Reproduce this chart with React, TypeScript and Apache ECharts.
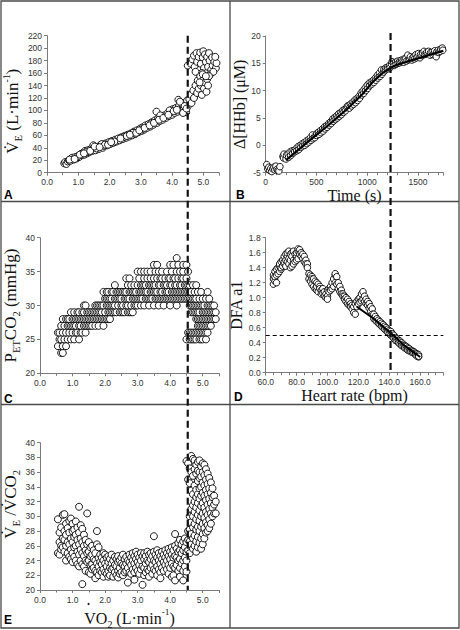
import React, { useEffect, useRef } from "react";
import * as echarts from "echarts";

// ---------- Data ----------
// Panel A: VO2 (L/min) vs VE (L/min)
const veData: number[][] = [
  [0.55, 15], [0.58, 17], [0.62, 14], [0.66, 18], [0.7, 20], [0.74, 19], [0.78, 22], [0.8, 24], [0.85, 21],
  [0.9, 25], [0.95, 23], [1.0, 27], [1.02, 25], [1.08, 30], [1.12, 28], [1.15, 32], [1.2, 29], [1.22, 35],
  [1.28, 31], [1.3, 36], [1.35, 33], [1.4, 38], [1.45, 35], [1.48, 44], [1.5, 39], [1.55, 36], [1.6, 41],
  [1.65, 38], [1.7, 44], [1.75, 46], [1.78, 40], [1.82, 43], [1.88, 47], [1.92, 44], [1.98, 49], [2.02, 46],
  [2.08, 51], [2.12, 48], [2.18, 53], [2.22, 50], [2.28, 55], [2.32, 52], [2.38, 57], [2.42, 54], [2.48, 59],
  [2.52, 56], [2.58, 61], [2.62, 58], [2.68, 63], [2.72, 60], [2.78, 66], [2.82, 62], [2.88, 68], [2.92, 65],
  [2.98, 71], [3.02, 67], [3.06, 73], [3.1, 69], [3.15, 76], [3.2, 72], [3.25, 78], [3.3, 74], [3.35, 81],
  [3.4, 77], [3.45, 84], [3.5, 98], [3.52, 80], [3.55, 87], [3.6, 83], [3.65, 89], [3.7, 85], [3.75, 92],
  [3.8, 88], [3.85, 95], [3.9, 91], [3.95, 97], [4.0, 93], [4.02, 102], [4.08, 96], [4.12, 104], [4.18, 98],
  [4.2, 117], [4.22, 107], [4.28, 100], [4.32, 110], [4.38, 104], [4.42, 112], [4.45, 97], [4.48, 116],
  [4.5, 172], [4.52, 108], [4.35, 96], [4.25, 114], [3.92, 100], [3.62, 92], [3.32, 79], [3.05, 70],
  [2.75, 64], [2.45, 57], [2.15, 50], [1.85, 45], [1.58, 39], [1.25, 33], [0.98, 26], [0.72, 21],
  [0.88, 22], [1.05, 29], [1.18, 31], [1.38, 35], [1.52, 42], [1.68, 41], [1.95, 45], [2.05, 49],
  [2.35, 55], [2.55, 59], [2.65, 61], [2.85, 64], [2.95, 68], [3.12, 72], [3.28, 76], [3.42, 80],
  [3.58, 85], [3.72, 88], [3.88, 93], [4.05, 99], [4.15, 101], [4.4, 107], [4.46, 103],
  // upper blob
  [4.6, 175], [4.65, 182], [4.7, 188], [4.72, 170], [4.78, 192], [4.8, 178], [4.85, 186], [4.88, 165],
  [4.9, 193], [4.92, 175], [4.98, 185], [5.0, 195], [5.02, 168], [5.05, 190], [5.08, 178], [5.1, 160],
  [5.12, 186], [5.15, 170], [5.18, 192], [5.2, 180], [5.25, 165], [5.28, 185], [5.3, 172], [5.35, 178],
  [5.4, 168], [5.42, 176], [5.38, 186], [5.22, 158], [4.95, 160], [4.75, 162], [5.32, 162],
  // lower column
  [4.55, 118], [4.6, 125], [4.62, 112], [4.68, 132], [4.7, 120], [4.75, 140], [4.8, 128], [4.82, 148],
  [4.85, 135], [4.9, 155], [4.92, 140], [4.95, 125], [5.0, 150], [5.02, 135], [5.05, 145], [5.1, 130],
  [5.12, 150], [5.15, 140], [5.18, 155], [4.98, 158], [4.88, 145], [5.08, 155],
];

// Panel B: time (s) vs Δ[HHb] (µM)
const hhbData: number[][] = [
  [10, -3.5], [20, -4.3], [30, -4.0], [40, -4.6], [50, -4.2], [60, -4.8], [70, -4.3], [80, -4.0], [90, -4.5],
  [100, -3.8], [110, -4.4], [120, -4.6], [130, -4.7], [140, -3.9],
  [170, -2.0], [175, -2.3], [180, -1.6], [200, -2.5], [205, -1.8], [220, -1.6], [225, -2.2], [240, -1.2],
  [245, -1.9], [260, -1.0], [265, -1.5], [280, -0.9], [285, -1.2], [300, -0.6], [305, -1.0], [320, -0.2],
  [325, -0.8], [340, 0.0], [345, -0.4], [360, 0.3], [365, -0.1], [380, 0.5], [385, 0.0], [400, 0.8],
  [405, 0.3], [420, 1.0], [425, 0.6], [440, 1.4], [445, 0.9], [460, 1.9], [465, 1.2], [480, 1.6], [485, 1.4],
  [500, 1.8], [505, 2.2], [520, 2.4], [525, 2.0], [540, 2.7], [545, 2.3], [560, 3.0], [565, 2.6], [580, 3.4],
  [585, 3.0], [600, 3.6], [605, 3.3], [620, 4.0], [625, 3.7], [640, 4.3], [645, 4.0], [660, 4.8], [665, 4.4],
  [680, 5.1], [685, 4.7], [700, 5.4], [705, 5.0], [720, 5.8], [725, 5.3], [740, 6.0], [745, 5.6], [760, 6.4],
  [765, 6.0], [780, 6.6], [785, 6.3], [800, 6.9], [805, 7.2], [820, 7.3], [825, 6.8], [840, 7.6], [845, 7.2],
  [860, 7.9], [865, 7.5], [880, 8.3], [885, 7.8], [900, 8.6], [905, 8.2], [920, 9.0], [925, 8.6], [940, 9.6],
  [945, 9.2], [960, 10.0], [965, 9.5], [980, 10.5], [985, 10.0], [1000, 11.0], [1005, 10.4], [1020, 11.4],
  [1025, 10.9], [1040, 11.6], [1045, 11.2], [1060, 11.9], [1065, 11.5], [1080, 12.3], [1085, 11.9],
  [1100, 12.8], [1105, 12.3], [1120, 13.2], [1125, 12.6], [1140, 13.8], [1145, 13.0], [1160, 13.4],
  [1165, 13.9], [1180, 13.8], [1185, 14.2], [1200, 14.3], [1205, 14.0], [1220, 14.6], [1225, 14.2],
  [1240, 14.8], [1245, 15.3], [1260, 15.0], [1265, 14.6], [1280, 15.2], [1285, 14.8], [1300, 15.4],
  [1305, 15.0], [1320, 15.1], [1325, 15.5], [1340, 15.6], [1345, 15.3], [1360, 15.2], [1365, 15.8],
  [1380, 15.9], [1385, 15.4], [1400, 16.5], [1405, 15.6], [1420, 15.8], [1425, 16.2], [1440, 15.6],
  [1445, 16.0], [1460, 16.2], [1465, 15.8], [1480, 16.6], [1485, 16.0], [1500, 16.3], [1505, 16.8],
  [1520, 16.0], [1525, 16.6], [1540, 16.4], [1545, 16.9], [1560, 17.2], [1565, 16.6], [1580, 16.7],
  [1585, 17.0], [1600, 16.8], [1605, 17.2], [1620, 16.5], [1625, 17.0], [1640, 17.0], [1645, 16.6],
  [1660, 16.8], [1665, 17.3], [1680, 16.2], [1685, 17.1], [1700, 17.4], [1705, 17.0], [1720, 17.2],
  [1725, 17.6], [1740, 17.8], [1745, 17.4],
];
const hhbFit: number[][] = [
  [200, -2.7], [400, 0.4], [600, 3.4], [800, 6.6], [950, 9.3], [1050, 11.5], [1150, 13.2], [1230, 14.2],
  [1300, 14.8], [1500, 15.9], [1750, 17.3],
];

// Panel C: VO2 vs PETCO2 (columns of integer readings)
const petco2Columns: [number, number[]][] = [
  [0.55, [24, 26]], [0.6, [25, 26]], [0.65, [23, 25, 27]], [0.7, [23, 24, 26, 28]], [0.75, [25, 27]],
  [0.8, [24, 26, 28]], [0.85, [25, 27, 28]], [0.9, [26, 27, 28]], [0.95, [25, 27, 29]], [1.0, [26, 27, 28]],
  [1.05, [25, 27, 28, 29]], [1.1, [26, 27, 28]], [1.15, [26, 28, 29]], [1.2, [25, 27, 28, 29]],
  [1.25, [26, 27, 28]], [1.3, [26, 28, 29]], [1.35, [27, 28, 29, 30]], [1.4, [26, 27, 28, 30]],
  [1.45, [27, 28, 29]], [1.5, [27, 28, 29]], [1.55, [27, 28, 29]], [1.6, [27, 28, 29]], [1.65, [28, 29]],
  [1.7, [27, 28, 29, 30]], [1.75, [28, 29, 30]], [1.8, [27, 28, 29, 30]], [1.85, [28, 29, 30]],
  [1.9, [28, 29, 30]], [1.95, [27, 28, 30, 32]], [2.0, [28, 29, 31]], [2.05, [28, 30, 31, 32]],
  [2.1, [28, 29, 30, 31, 32]], [2.15, [28, 29, 30, 31]], [2.2, [29, 30, 31, 32]], [2.25, [29, 30, 32]],
  [2.3, [29, 30, 31, 33]], [2.35, [29, 31, 32]], [2.4, [30, 31, 32]], [2.45, [29, 31, 32]],
  [2.5, [29, 30, 31, 32]], [2.55, [29, 30, 32]], [2.6, [29, 31, 32]], [2.65, [30, 31, 32, 34]],
  [2.7, [29, 30, 31, 33]], [2.75, [29, 31, 32, 34]], [2.8, [29, 30, 32, 33]], [2.85, [29, 31, 32]],
  [2.9, [30, 31, 32, 33]], [2.95, [30, 31, 32]], [3.0, [30, 31, 33, 35]], [3.05, [31, 32, 34]],
  [3.1, [30, 31, 32, 33, 35]], [3.15, [31, 32, 33]], [3.2, [30, 32, 33, 34, 35]], [3.25, [31, 32, 33]],
  [3.3, [31, 32, 34, 35]], [3.35, [30, 31, 33]], [3.4, [31, 32, 33, 34, 35]], [3.45, [31, 32, 33]],
  [3.5, [30, 32, 33, 34, 36]], [3.55, [31, 32, 33, 35]], [3.6, [31, 32, 34, 36]], [3.65, [30, 31, 33, 35]],
  [3.7, [31, 32, 33, 34]], [3.75, [31, 32, 34, 35]], [3.8, [30, 31, 33]], [3.85, [31, 32, 33, 34]],
  [3.9, [31, 32, 33, 35]], [3.95, [31, 32, 34]], [4.0, [30, 31, 33, 34, 36]], [4.05, [31, 32, 33, 35]],
  [4.1, [31, 32, 34, 36]], [4.15, [31, 32, 33, 34]], [4.2, [30, 31, 32, 33, 35, 37]], [4.25, [31, 32, 34, 36]],
  [4.3, [31, 32, 33, 35]], [4.35, [31, 32, 33, 34]], [4.4, [31, 32, 34, 35, 36]], [4.45, [31, 32, 33]],
  [4.5, [25, 31, 32, 33, 34, 36]], [4.55, [26, 31, 32, 33, 35]], [4.6, [25, 26, 30, 31, 32, 33]],
  [4.65, [25, 26, 29, 30, 31, 32]], [4.7, [25, 26, 29, 30, 31, 33]], [4.75, [25, 26, 29, 30, 31, 32]],
  [4.8, [25, 26, 28, 29, 30, 31, 33]], [4.85, [26, 27, 28, 29, 30, 32]], [4.9, [25, 26, 27, 28, 29, 30, 31]],
  [4.95, [25, 26, 27, 28, 30, 32]], [5.0, [25, 26, 27, 28, 29, 30, 31]], [5.05, [26, 27, 28, 29, 30]],
  [5.1, [25, 26, 27, 28, 29, 31]], [5.15, [26, 27, 28, 29, 30, 32]], [5.2, [27, 28, 29, 30, 31]],
  [5.25, [27, 28, 29, 30]], [5.3, [28, 29, 30]], [5.35, [28, 29, 30]], [5.4, [28, 29]],
];

// Panel D: heart rate (bpm) vs DFA a1
const dfaColumns: [number, number[]][] = [
  [65, [1.18, 1.25, 1.3]], [66, [1.22, 1.35, 1.28]], [67, [1.3, 1.38, 1.2]], [68, [1.32, 1.4]],
  [69, [1.35, 1.42, 1.45]], [70, [1.38, 1.48, 1.4]], [71, [1.42, 1.5]], [72, [1.45, 1.55, 1.48]],
  [73, [1.5, 1.58, 1.42]], [74, [1.55, 1.6, 1.48]], [75, [1.52, 1.62, 1.45]], [76, [1.58, 1.5, 1.4]],
  [77, [1.6, 1.55, 1.42]], [78, [1.62, 1.5, 1.45]], [79, [1.58, 1.48]], [80, [1.55, 1.6, 1.5]],
  [81, [1.62, 1.65, 1.52]], [82, [1.64, 1.58]], [83, [1.6, 1.55]], [84, [1.58, 1.52]], [85, [1.55, 1.48]],
  [86, [1.5, 1.45]], [87, [1.45, 1.4]], [88, [1.32, 1.25]], [89, [1.3, 1.22]], [90, [1.28, 1.18, 1.25]],
  [91, [1.25, 1.15]], [92, [1.22, 1.12]], [93, [1.2, 1.1, 1.15]], [94, [1.18, 1.08]], [95, [1.15, 1.12]],
  [96, [1.1, 1.05]], [97, [1.12, 1.06]], [98, [1.08, 1.02]], [99, [1.05, 1.0]], [100, [1.1, 1.02, 0.98]],
  [101, [1.12, 1.08]], [102, [1.15, 1.1]], [103, [1.2, 1.12]], [104, [1.25, 1.15]], [105, [1.3, 1.32, 1.2]],
  [106, [1.28, 1.18]], [107, [1.2, 1.12]], [108, [1.15, 1.08]], [109, [1.1, 1.05]], [110, [1.05, 1.02]],
  [111, [1.02, 0.98]], [112, [1.0, 0.95]], [113, [0.98, 0.92]], [114, [0.95, 0.9]], [115, [0.92, 0.88]],
  [116, [0.9, 0.85]], [117, [0.88, 0.8]], [118, [0.92, 0.78]], [119, [0.95, 0.88]], [120, [0.98, 0.92]],
  [121, [1.0, 0.94]], [122, [1.05, 0.96]], [123, [1.08, 0.98]], [124, [1.02, 0.95]], [125, [0.98, 0.92]],
  [126, [0.95, 0.9]], [127, [0.92, 0.86]], [128, [0.88, 0.82]], [129, [0.85, 0.78]], [130, [0.78, 0.72]],
  [131, [0.75, 0.7]], [132, [0.72, 0.68]], [133, [0.7, 0.66]], [134, [0.68, 0.64]], [135, [0.66, 0.62]],
  [136, [0.64, 0.6]], [137, [0.62, 0.58]], [138, [0.6, 0.56]], [139, [0.58, 0.54]], [140, [0.56, 0.52]],
  [141, [0.55, 0.5]], [142, [0.52, 0.48]], [143, [0.5, 0.46]], [144, [0.47, 0.43]], [145, [0.45, 0.42]],
  [146, [0.43, 0.4]], [147, [0.42, 0.38]], [148, [0.4, 0.36]], [149, [0.38, 0.35]], [150, [0.36, 0.33]],
  [151, [0.35, 0.32]], [152, [0.33, 0.3]], [153, [0.32, 0.29]], [154, [0.3, 0.28]], [155, [0.29, 0.27]],
  [156, [0.28, 0.26]], [157, [0.26, 0.24]], [158, [0.25, 0.22]], [159, [0.24, 0.21, 0.22]],
];
const dfaFit: number[][] = [[119, 0.88], [130, 0.72], [141, 0.53], [150, 0.36], [160, 0.21]];

// Panel E: VO2 vs VE/VCO2
const veVco2Columns: [number, number[]][] = [
  [0.55, [29.6, 25.0]], [0.6, [27.8, 26.5, 24.8]], [0.65, [26.0, 28.5, 25.5]], [0.7, [30.2, 27.0, 25.8]],
  [0.75, [30.3, 28.0, 26.8, 25.2]], [0.8, [29.0, 27.5, 26.0, 24.0]], [0.85, [28.4, 26.5, 25.0]],
  [0.9, [29.4, 27.8, 26.2, 24.5]], [0.95, [29.7, 27.0, 25.5, 24.2]], [1.0, [29.0, 28.0, 26.5, 25.0, 23.8]],
  [1.05, [28.2, 27.2, 25.8, 24.5]], [1.1, [29.3, 27.5, 26.0, 24.0]], [1.15, [28.5, 26.8, 25.2, 23.5]],
  [1.2, [31.3, 27.8, 26.2, 24.8, 23.2]], [1.25, [28.8, 27.0, 25.5, 24.0]], [1.3, [28.3, 26.5, 25.0, 23.5, 20.8]],
  [1.35, [27.5, 26.0, 24.6, 23.2]], [1.4, [26.8, 25.4, 24.0, 22.6]], [1.45, [30.4, 26.2, 25.0, 23.8]],
  [1.5, [26.5, 25.2, 24.0, 22.4]], [1.55, [25.8, 24.6, 23.4, 22.2]], [1.6, [26.0, 24.8, 23.5, 22.8]],
  [1.65, [25.4, 24.2, 23.0]], [1.7, [25.0, 24.0, 22.6, 21.6]], [1.75, [28.0, 26.2, 23.6, 22.4]],
  [1.8, [25.8, 24.4, 23.2, 22.0]], [1.85, [24.8, 23.8, 22.6]], [1.9, [24.4, 23.5, 22.4]],
  [1.95, [25.0, 24.0, 22.8, 21.8]], [2.0, [24.8, 23.6, 22.4]], [2.05, [24.4, 23.2, 22.2]],
  [2.1, [24.6, 23.8, 22.6, 21.8]], [2.15, [24.2, 23.0, 22.0]], [2.2, [24.8, 23.6, 22.8]],
  [2.25, [24.0, 23.0, 21.8]], [2.3, [24.5, 23.4, 22.4]], [2.35, [24.2, 23.2, 22.0]],
  [2.4, [24.6, 23.8, 22.6, 21.7]], [2.45, [24.0, 23.0, 22.2]], [2.5, [24.4, 23.6, 22.4]],
  [2.55, [24.8, 23.4, 22.0]], [2.6, [24.2, 23.2, 22.4]], [2.65, [24.5, 23.6, 22.6]], [2.7, [24.0, 23.0, 21.0]],
  [2.75, [24.8, 23.8, 22.4]], [2.8, [24.4, 23.4, 22.2]], [2.85, [25.0, 24.0, 22.8]],
  [2.9, [24.6, 23.6, 22.4, 21.4]], [2.95, [25.2, 24.2, 23.0]], [3.0, [24.8, 23.8, 22.6]],
  [3.05, [24.4, 23.4, 22.2]], [3.1, [25.0, 24.0, 22.8]], [3.15, [24.6, 23.2, 20.7]],
  [3.2, [25.0, 24.2, 23.0, 22.0]], [3.25, [24.6, 23.6, 22.4]], [3.3, [25.2, 24.0, 22.8]],
  [3.35, [24.8, 23.8, 22.6, 21.8]], [3.4, [25.0, 24.2, 23.0]], [3.45, [24.6, 23.4, 22.2]],
  [3.5, [27.3, 25.2, 24.0, 22.8]], [3.55, [24.8, 23.8, 22.6]], [3.6, [25.4, 24.4, 23.2, 22.0]],
  [3.65, [25.0, 24.0, 22.8]], [3.7, [24.6, 23.6, 22.4, 21.6]], [3.75, [25.2, 24.2, 23.0]],
  [3.8, [24.8, 23.8, 22.6]], [3.85, [25.4, 24.4, 23.4]], [3.9, [25.0, 24.0, 22.8]],
  [3.95, [25.6, 24.6, 23.4, 22.2]], [4.0, [25.2, 24.2, 23.0]], [4.05, [25.8, 24.8, 23.6, 21.8]],
  [4.1, [25.4, 24.4, 23.2, 22.0]], [4.15, [27.6, 26.0, 24.6, 23.0, 21.3]], [4.2, [25.6, 24.4, 23.4]],
  [4.25, [26.4, 25.2, 24.0, 22.6]], [4.3, [26.8, 25.4, 24.2, 23.0, 21.8]], [4.35, [26.2, 25.0, 23.6]],
  [4.4, [26.6, 25.4, 24.0, 22.6, 21.3]], [4.45, [27.0, 25.8, 24.4, 23.2]], [4.5, [37.5, 26.5, 25.2, 24.0, 22.5]],
  [4.55, [37.2, 35.0, 28.0, 26.8, 25.4]], [4.6, [36.5, 34.5, 30.0, 28.2, 26.6, 25.0]],
  [4.65, [38.2, 36.0, 33.5, 31.0, 29.2, 27.6, 26.2]], [4.7, [37.8, 35.5, 33.0, 31.5, 30.0, 28.5, 27.0, 25.6]],
  [4.75, [37.6, 36.4, 34.2, 32.0, 30.6, 29.0, 27.4, 26.0]],
  [4.8, [37.0, 35.8, 33.6, 32.6, 31.2, 29.6, 28.2, 26.6, 25.2]],
  [4.85, [37.4, 36.2, 34.8, 33.0, 31.8, 30.2, 28.6, 27.2, 25.8]],
  [4.9, [37.6, 36.0, 35.2, 33.8, 32.4, 30.8, 29.4, 28.0, 26.4]],
  [4.95, [36.8, 35.4, 34.0, 32.8, 31.4, 30.0, 28.6, 27.0, 25.6]],
  [5.0, [37.2, 36.0, 34.6, 33.2, 31.8, 30.4, 29.0, 27.6, 26.2]],
  [5.05, [37.0, 35.6, 34.2, 32.8, 31.2, 29.8, 28.4, 27.0]], [5.1, [36.4, 35.0, 33.6, 32.2, 30.6, 29.2, 27.8]],
  [5.15, [35.8, 34.4, 33.0, 31.6, 30.2, 28.8, 28.0]], [5.2, [35.2, 33.8, 32.4, 31.0, 29.6, 28.4]],
  [5.25, [34.6, 33.2, 31.8, 30.4, 29.0]], [5.3, [33.8, 32.6, 31.2, 30.0]], [5.35, [32.8, 31.6, 30.4]],
  [5.4, [32.0, 30.4]],
];

// Thresholds
const VT_VO2 = 4.5;
const HHB_BREAK_TIME = 1228;
const HR_BREAK = 141;
const DFA_THRESHOLD = 0.5;

const flatten = (cols: [number, number[]][]) => cols.flatMap(([x, ys]) => ys.map((y) => [x, y]));

const SANS = "'Liberation Sans', Arial, sans-serif";
const SERIF = "'Liberation Serif', 'Times New Roman', serif";
const AXIS_COLOR = "#7a7a7a";

const richStyles = (size: number) => ({
  m: { fontFamily: SERIF, fontSize: size, lineHeight: size + 6, color: "#111" },
  sb: { fontFamily: SERIF, fontSize: size * 0.62, lineHeight: 9, verticalAlign: "bottom", color: "#111" },
  sp: { fontFamily: SERIF, fontSize: size * 0.58, lineHeight: 9, verticalAlign: "top", color: "#111" },
});

function makeAxis(opts: any) {
  const { min, max, interval, decimals, minorSplit, name, nameGap, nameSize, rotate, hideMax, labelMargin, namePadding } = opts;
  return {
    type: "value",
    min,
    max,
    interval,
    gridIndex: opts.gridIndex,
    name: name || "",
    nameLocation: "middle",
    nameGap: nameGap || 0,
    nameRotate: rotate ? 90 : 0,
    nameTextStyle: {
      fontFamily: SERIF, fontSize: nameSize || 16, color: "#111", rich: richStyles(nameSize || 16),
      padding: namePadding || 0,
    },
    axisLine: { show: true, onZero: false, lineStyle: { color: AXIS_COLOR, width: 1 } },
    axisTick: { show: true, length: 3, lineStyle: { color: AXIS_COLOR, width: 1 } },
    minorTick: minorSplit
      ? { show: true, splitNumber: minorSplit, length: 2.5, lineStyle: { color: AXIS_COLOR, width: 1 } }
      : { show: false },
    splitLine: { show: false },
    axisLabel: {
      fontFamily: SANS,
      fontSize: 8.5,
      color: "#333",
      margin: labelMargin ?? 5,
      showMaxLabel: hideMax ? false : true,
      formatter: (v: number) => v.toFixed(decimals),
    },
  };
}

const scatterStyle = (size: number) => ({
  type: "scatter",
  symbol: "circle",
  symbolSize: size,
  itemStyle: { color: "#fff", borderColor: "#000", borderWidth: 0.9, opacity: 1 },
  emphasis: { disabled: true },
  silent: true,
});

export default function App() {
  const ref = useRef<HTMLDivElement>(null);

  useEffect(() => {
    document.body.style.margin = "0";
    if (!ref.current) return;
    const chart = echarts.init(ref.current, undefined, { renderer: "svg" });

    const grids = [
      { left: 40, top: 35.7, width: 179, height: 137 }, // A
      { left: 265.7, top: 36, width: 177.6, height: 136.7 }, // B
      { left: 40, top: 237.7, width: 179, height: 135.6 }, // C
      { left: 265.7, top: 237.7, width: 177.6, height: 135 }, // D
      { left: 40, top: 442.7, width: 179, height: 149 }, // E
    ];

    const option: any = {
      animation: false,
      grid: grids.map((g) => ({ ...g, containLabel: false })),
      xAxis: [
        makeAxis({ gridIndex: 0, min: 0, max: 5.5, interval: 1, decimals: 1, minorSplit: 2, hideMax: true }),
        makeAxis({
          gridIndex: 1, min: 0, max: 1750, interval: 500, decimals: 0, minorSplit: 5, hideMax: true,
          name: "Time (s)", nameGap: 13, nameSize: 16,
        }),
        makeAxis({ gridIndex: 2, min: 0, max: 5.5, interval: 1, decimals: 1, minorSplit: 2, hideMax: true }),
        makeAxis({
          gridIndex: 3, min: 60, max: 175, interval: 20, decimals: 1, minorSplit: 4, hideMax: true,
          name: "Heart rate (bpm)", nameGap: 14, nameSize: 16,
        }),
        makeAxis({
          gridIndex: 4, min: 0, max: 5.5, interval: 1, decimals: 1, minorSplit: 2, hideMax: true,
          name: "{m|VO}{sb|2}{m| (L·min}{sp|-1}{m|)}", nameGap: 17, nameSize: 16,
        }),
      ],
      yAxis: [
        makeAxis({
          gridIndex: 0, min: 0, max: 220, interval: 20, decimals: 0, rotate: true,
          name: "{m|V\u0307}{sb|E}{m| (L·min}{sp|-1}{m|)}", nameGap: 17, nameSize: 17,
          namePadding: [0, 14, 0, 0],
        }),
        makeAxis({
          gridIndex: 1, min: -5, max: 20, interval: 5, decimals: 0, rotate: true,
          name: "{m|Δ[HHb] (μM)}", nameGap: 13, nameSize: 16,
        }),
        makeAxis({
          gridIndex: 2, min: 20, max: 40, interval: 5, decimals: 0, rotate: true,
          name: "{m|P}{sb|ET}{m|CO}{sb|2}{m| (mmHg)}", nameGap: 17, nameSize: 17,
        }),
        makeAxis({
          gridIndex: 3, min: 0, max: 1.8, interval: 0.2, decimals: 1, rotate: true,
          name: "{m|DFA a1}", nameGap: 15, nameSize: 16,
        }),
        makeAxis({
          gridIndex: 4, min: 20, max: 40, interval: 2, decimals: 0, rotate: true,
          name: "{m|V\u0307}{sb|E}{m| /V\u0307CO}{sb|2}", nameGap: 17, nameSize: 17,
          namePadding: [0, 0, 0, 24],
        }),
      ],
      series: [
        { ...scatterStyle(7), xAxisIndex: 0, yAxisIndex: 0, data: veData },
        { ...scatterStyle(6.5), xAxisIndex: 1, yAxisIndex: 1, data: hhbData },
        {
          type: "line", xAxisIndex: 1, yAxisIndex: 1, data: hhbFit, symbol: "none", silent: true, z: 5,
          lineStyle: { color: "#000", width: 2.2 },
        },
        { ...scatterStyle(7), xAxisIndex: 2, yAxisIndex: 2, data: flatten(petco2Columns) },
        {
          ...scatterStyle(6.5), xAxisIndex: 3, yAxisIndex: 3, data: flatten(dfaColumns),
          markLine: {
            silent: true, symbol: "none", animation: false,
            label: { show: false },
            lineStyle: { color: "#000", width: 1.2, type: [4, 3] },
            data: [[{ coord: [60, DFA_THRESHOLD] }, { coord: [175, DFA_THRESHOLD] }]],
          },
        },
        {
          type: "line", xAxisIndex: 3, yAxisIndex: 3, data: dfaFit, symbol: "none", silent: true, z: 5,
          lineStyle: { color: "#000", width: 2 },
        },
        { ...scatterStyle(7), xAxisIndex: 4, yAxisIndex: 4, data: flatten(veVco2Columns) },
      ],
    };

    chart.setOption(option);

    // Threshold lines spanning panels, positioned via the axes' own scales
    const xLeft = chart.convertToPixel({ xAxisIndex: 0 }, VT_VO2) as number;
    const yLeftTop = chart.convertToPixel({ yAxisIndex: 0 }, 220) as number;
    const yLeftBottom = chart.convertToPixel({ yAxisIndex: 4 }, 20) as number;
    const xRight = chart.convertToPixel({ xAxisIndex: 1 }, HHB_BREAK_TIME) as number;
    const xRightD = chart.convertToPixel({ xAxisIndex: 3 }, HR_BREAK) as number;
    const yRightTop = (chart.convertToPixel({ yAxisIndex: 1 }, 20) as number) - 3;
    const yRightBottom = chart.convertToPixel({ yAxisIndex: 3 }, 0) as number;
    const xR = (xRight + xRightD) / 2;

    const border = { stroke: "#4a4a4a", lineWidth: 1.3, fill: "none" };
    const letter = (t: string, x: number, y: number) => ({
      type: "text", x, y,
      style: { text: t, fontFamily: SANS, fontWeight: "bold", fontSize: 12, fill: "#000", verticalAlign: "middle", align: "left" },
      silent: true,
    });

    chart.setOption({
      graphic: {
        elements: [
          { type: "rect", shape: { x: 1, y: 1, width: 458, height: 627 }, style: border, silent: true },
          { type: "line", shape: { x1: 1, y1: 201.5, x2: 459, y2: 201.5 }, style: border, silent: true },
          { type: "line", shape: { x1: 1, y1: 404.5, x2: 459, y2: 404.5 }, style: border, silent: true },
          { type: "line", shape: { x1: 230, y1: 1, x2: 230, y2: 628 }, style: border, silent: true },
          {
            type: "line", z: 100, silent: true,
            shape: { x1: xLeft, y1: yLeftTop, x2: xLeft, y2: yLeftBottom },
            style: { stroke: "#111", lineWidth: 2.2, lineDash: [7, 4] },
          },
          {
            type: "line", z: 100, silent: true,
            shape: { x1: xR, y1: yRightTop, x2: xR, y2: yRightBottom },
            style: { stroke: "#111", lineWidth: 2.2, lineDash: [7, 4] },
          },
          { type: "circle", shape: { cx: 88.5, cy: 604, r: 1 }, style: { fill: "#111" }, silent: true },
          letter("A", 4, 195),
          letter("B", 236, 195),
          letter("C", 4, 398.5),
          letter("D", 234, 396.5),
          letter("E", 4, 620),
        ],
      },
    });

    return () => chart.dispose();
  }, []);

  return <div ref={ref} style={{ width: 460, height: 630 }} />;
}
